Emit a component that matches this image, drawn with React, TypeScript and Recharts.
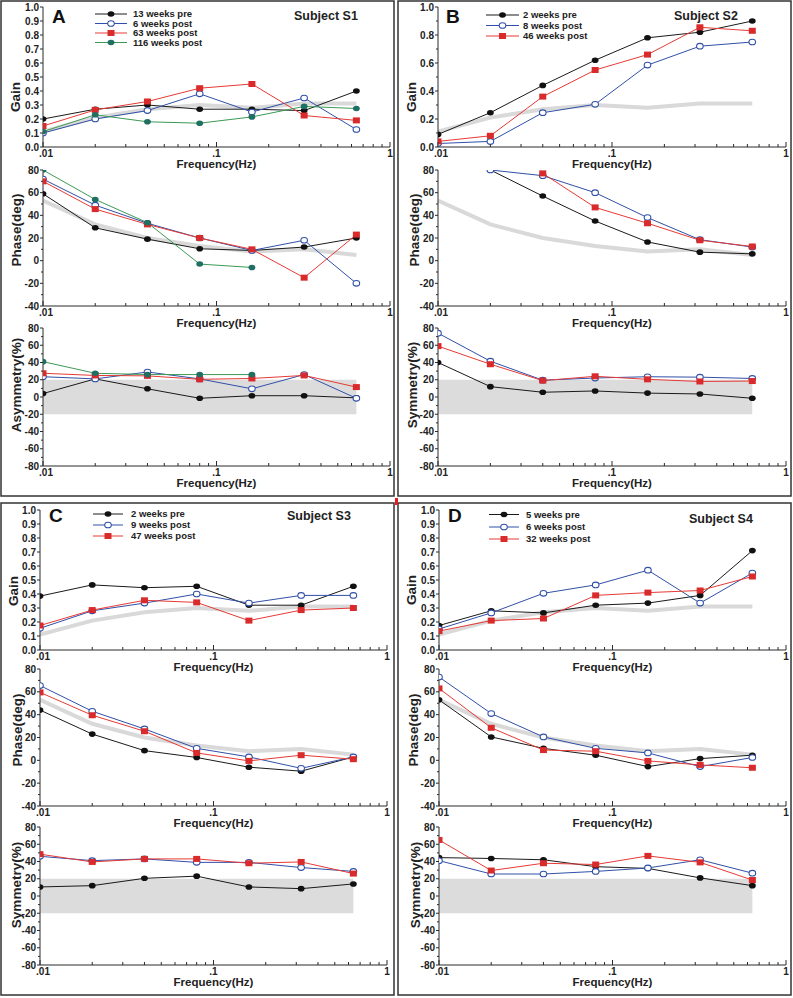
import React from 'react';
import { LineChart, Line, XAxis, YAxis, ReferenceArea } from 'recharts';

// stimulus frequencies (Hz)
const freqs = [0.01, 0.02, 0.04, 0.08, 0.16, 0.32, 0.64];
const xTicks = [0.01, 0.02, 0.03, 0.04, 0.05, 0.06, 0.07, 0.08, 0.09, 0.1, 0.2, 0.3, 0.4, 0.5, 0.6, 0.7, 0.8, 0.9, 1];
const xMajor = [0.01, 0.1, 1];
const xMajorLabels = ['.01', '.1', '1'];

const gainTicks = [0, 0.1, 0.2, 0.3, 0.4, 0.5, 0.6, 0.7, 0.8, 0.9, 1];
const gainMajorB = [0, 0.2, 0.4, 0.6, 0.8, 1];
const phaseTicks = [-40, -30, -20, -10, 0, 10, 20, 30, 40, 50, 60, 70, 80];
const phaseMajor = [-40, -20, 0, 20, 40, 60, 80];
const symTicks = [-80, -70, -60, -50, -40, -30, -20, -10, 0, 10, 20, 30, 40, 50, 60, 70, 80];
const symMajor = [-80, -60, -40, -20, 0, 20, 40, 60, 80];

// normal reference (gray)
const normGain = [0.11, 0.21, 0.27, 0.3, 0.28, 0.31, 0.31];
const normPhase = [53, 32, 20, 13, 8, 10, 5];
const normBand = [-20, 20];

// Subject S1
const s1Names = ['13 weeks pre', '6 weeks post', '63 weeks post', '116 weeks post'];
const s1Gain = [
  [0.2, 0.27, 0.3, 0.27, 0.27, 0.26, 0.4],
  [0.1, 0.2, 0.26, 0.38, 0.25, 0.35, 0.125],
  [0.15, 0.265, 0.325, 0.42, 0.45, 0.225, 0.19],
  [0.11, 0.23, 0.18, 0.17, 0.215, 0.29, 0.275],
];
const s1Phase = [
  [59, 29, 19, 10.5, 9, 12, 20],
  [72, 49, 33, 20, 9, 18, -20],
  [70, 45.5, 32, 20, 10, -15, 23],
  [80, 54, 33.5, -3, -6, null, null],
];
const s1Sym = [
  [4, 21, 9.5, -1.5, 1.5, 1.5, -1],
  [23.5, 21, 29, 21, 9.5, 26, -1.5],
  [27.5, 25, 24.5, 20.5, 21.5, 25, 11.5],
  [41, 27.5, 26, 26, 26, null, null],
];

// Subject S2
const s2Names = ['2 weeks pre', '8 weeks post', '46 weeks post'];
const s2Gain = [
  [0.09, 0.245, 0.44, 0.62, 0.78, 0.82, 0.9],
  [0.025, 0.04, 0.245, 0.305, 0.585, 0.72, 0.75],
  [0.04, 0.08, 0.36, 0.55, 0.66, 0.855, 0.83],
];
const s2Phase = [
  [null, 80, 57, 35, 16.5, 7.5, 6],
  [null, 80, 75, 60, 38, 18.5, 12],
  [null, null, 77, 47, 33, 18, 12.5],
];
const s2Sym = [
  [40, 12, 5.5, 7, 4.5, 3.5, -1.5],
  [74, 41.5, 19.5, 22, 23.5, 23, 21.5],
  [59, 38, 19, 24, 20.5, 18, 18.5],
];

// Subject S3
const s3Names = ['2 weeks pre', '9 weeks post', '47 weeks post'];
const s3Gain = [
  [0.385, 0.465, 0.445, 0.455, 0.32, 0.32, 0.455],
  [0.155, 0.28, 0.335, 0.4, 0.335, 0.39, 0.39],
  [0.175, 0.285, 0.355, 0.34, 0.21, 0.285, 0.3],
];
const s3Phase = [
  [44, 23, 8.5, 2.5, -6, -9.5, 3],
  [65.5, 43, 27.5, 10.5, 3, -7, 3],
  [59.5, 39.5, 25.5, 6.5, -0.5, 4.5, 1],
];
const s3Sym = [
  [10.5, 12, 20.5, 23, 10.5, 8.5, 14],
  [46, 41, 43, 39, 39, 33, 28.5],
  [48.5, 39.5, 43, 43, 38, 39.5, 26],
];

// Subject S4
const s4Names = ['5 weeks pre', '6 weeks post', '32 weeks post'];
const s4Gain = [
  [0.175, 0.28, 0.265, 0.32, 0.335, 0.39, 0.71],
  [0.15, 0.265, 0.405, 0.465, 0.57, 0.335, 0.55],
  [0.135, 0.21, 0.225, 0.39, 0.41, 0.425, 0.525],
];
const s4Phase = [
  [53, 20.5, 10.5, 4.5, -5.5, 1.5, 4.5],
  [73, 41, 20.5, 10.5, 6.5, -5.5, 2.5],
  [63, 28.5, 9, 8, -0.5, -4, -6.5],
];
const s4Sym = [
  [44.5, 43.5, 42, 34, 32, 21, 12],
  [41, 25.5, 25.5, 28.5, 32.5, 42, 26.5],
  [65, 29.5, 38, 36.5, 46.5, 39, 18.5],
];

const FONT = '"Liberation Sans", Arial, Helvetica, sans-serif';
const AXIS = '#2a2a2a';

const seriesStyles = [
  { stroke: '#1a1a1a', marker: 'disc' },
  { stroke: '#3050a8', marker: 'ring' },
  { stroke: '#e63a35', marker: 'square' },
  { stroke: '#3c9a55', marker: 'teal' },
];

const marker = (kind: string, cx: number, cy: number, key?: string) => {
  if (kind === 'ring')
    return <ellipse key={key} cx={cx} cy={cy} rx={3.3} ry={2.8} fill="#fff" stroke="#3050a8" strokeWidth={1.1} />;
  if (kind === 'square') return <rect key={key} x={cx - 3.5} y={cy - 3} width={7} height={6} fill="#d92b2b" />;
  if (kind === 'teal') return <ellipse key={key} cx={cx} cy={cy} rx={3.4} ry={2.8} fill="#1f6f62" />;
  return <ellipse key={key} cx={cx} cy={cy} rx={3.4} ry={2.8} fill="#111" />;
};

const dotFor = (kind: string) => (p: any) => {
  const k = `dot-${p.index}`;
  if (p.cx == null || p.cy == null || p.value == null) return <g key={k} />;
  return marker(kind, p.cx, p.cy, k);
};

const XTick = (p: any) => {
  const { x, y, payload } = p;
  const mi = xMajor.findIndex((m) => Math.abs(m - payload.value) < 1e-9);
  return (
    <g>
      <line x1={x} x2={x} y1={y} y2={y - (mi >= 0 ? 5 : 3)} stroke={AXIS} strokeWidth={1} />
      {mi >= 0 && (
        <text x={x + (mi === 0 ? 3 : 0)} y={y + 9.5} textAnchor="middle" fontSize={10} fontWeight="bold" fill="#222" fontFamily={FONT}>
          {xMajorLabels[mi]}
        </text>
      )}
    </g>
  );
};

const yTickFor = (major: number[], digits: number) => (p: any) => {
  const { x, y, payload } = p;
  const isMajor = major.some((m) => Math.abs(m - payload.value) < 1e-9);
  return (
    <g>
      <line x1={x - (isMajor ? 3 : 2)} x2={x} y1={y} y2={y} stroke={AXIS} strokeWidth={1} />
      {isMajor && (
        <text x={x - 4} y={y + 3.5} textAnchor="end" fontSize={10} fontWeight="bold" fill="#222" fontFamily={FONT}>
          {payload.value.toFixed(digits)}
        </text>
      )}
    </g>
  );
};

type PlotProps = {
  px: number[];
  py: number[];
  domain: number[];
  ticks: number[];
  major: number[];
  digits: number;
  series: (number | null)[][];
  norm?: number[];
  band?: number[];
};

const ML = 45;
const MR = 12;
const MT = 10;
const MB = 32;

const Plot = ({ px, py, domain, ticks, major, digits, series, norm, band }: PlotProps) => {
  const rows = freqs.map((f, i) => {
    const r: any = { f };
    if (norm) r.norm = norm[i];
    series.forEach((s, j) => (r['s' + j] = s[i]));
    return r;
  });
  const w = px[1] - px[0] + ML + MR;
  const h = py[1] - py[0] + MT + MB;
  return (
    <div style={{ position: 'absolute', left: px[0] - ML, top: py[0] - MT }}>
      <LineChart width={w} height={h} data={rows} margin={{ top: MT, right: MR, bottom: 0, left: 0 }}>
        <XAxis
          dataKey="f"
          type="number"
          scale="log"
          domain={[0.01, 1]}
          allowDataOverflow
          ticks={xTicks}
          interval={0}
          height={MB}
          tickSize={0}
          tickMargin={0}
          tickLine={false}
          tick={XTick}
          axisLine={{ stroke: AXIS, strokeWidth: 1 }}
          label={{
            value: 'Frequency(Hz)',
            position: 'insideBottom',
            offset: 11,
            fontSize: 11.5,
            fontWeight: 'bold',
            fill: '#222',
            fontFamily: FONT,
          }}
        />
        <YAxis
          type="number"
          domain={domain}
          allowDataOverflow
          ticks={ticks}
          interval={0}
          width={ML}
          tickSize={0}
          tickMargin={0}
          tickLine={false}
          tick={yTickFor(major, digits)}
          axisLine={{ stroke: AXIS, strokeWidth: 1 }}
        />
        {band && (
          <ReferenceArea x1={freqs[0]} x2={freqs[freqs.length - 1]} y1={band[0]} y2={band[1]} fill="#dcdcdc" fillOpacity={1} stroke="none" />
        )}
        {norm && (
          <Line dataKey="norm" type="linear" stroke="#d9d9d9" strokeWidth={4} dot={false} activeDot={false} isAnimationActive={false} />
        )}
        {series.map((_, j) => (
          <Line
            key={j}
            dataKey={'s' + j}
            type="linear"
            stroke={seriesStyles[j].stroke}
            strokeWidth={1}
            dot={dotFor(seriesStyles[j].marker)}
            activeDot={false}
            isAnimationActive={false}
          />
        ))}
      </LineChart>
    </div>
  );
};

// page layout (pixels)
const rowY = [
  { gain: [7, 147], phase: [170, 306], sym: [328, 466] },
  { gain: [510, 650], phase: [669, 806], sym: [827, 965] },
];

const panels = [
  {
    letter: 'A', letterXY: [52, 23], subject: 'Subject S1', subjectXY: [294, 19.5],
    names: s1Names, gain: s1Gain, phase: s1Phase, sym: s1Sym, symTitle: 'Asymmetry(%)',
    px: [43, 390], row: 0, gainMajor: gainTicks,
    legend: { x1: 95, x2: 127, tx: 133, ys: [14, 23.5, 33, 42.5] },
    titles: [[15, 97], [16, 230], [16, 385]],
    box: [1, 1, 394, 496],
  },
  {
    letter: 'B', letterXY: [446, 23], subject: 'Subject S2', subjectXY: [674, 20],
    names: s2Names, gain: s2Gain, phase: s2Phase, sym: s2Sym, symTitle: 'Symmetry(%)',
    px: [438, 786], row: 0, gainMajor: gainMajorB,
    legend: { x1: 486, x2: 519, tx: 523, ys: [15, 25.5, 36] },
    titles: [[411, 97], [414, 230], [412, 385]],
    box: [398, 1, 791, 496],
  },
  {
    letter: 'C', letterXY: [49, 522], subject: 'Subject S3', subjectXY: [287, 520],
    names: s3Names, gain: s3Gain, phase: s3Phase, sym: s3Sym, symTitle: 'Symmetry(%)',
    px: [40, 387], row: 1, gainMajor: gainTicks,
    legend: { x1: 93, x2: 123, tx: 131, ys: [514, 525, 536] },
    titles: [[13, 591], [17, 730], [16, 885]],
    box: [1, 503, 394, 995],
  },
  {
    letter: 'D', letterXY: [448, 522], subject: 'Subject S4', subjectXY: [689, 523],
    names: s4Names, gain: s4Gain, phase: s4Phase, sym: s4Sym, symTitle: 'Symmetry(%)',
    px: [439, 786], row: 1, gainMajor: gainTicks,
    legend: { x1: 489, x2: 519, tx: 526, ys: [514.5, 527, 539] },
    titles: [[411, 590], [413, 730], [415, 885]],
    box: [398, 503, 791, 995],
  },
];

const Overlay = () => (
  <svg width={793} height={998} style={{ position: 'absolute', left: 0, top: 0, pointerEvents: 'none' }} fontFamily={FONT}>
    {panels.map((p) => (
      <g key={p.letter}>
        <rect x={p.box[0]} y={p.box[1]} width={p.box[2] - p.box[0]} height={p.box[3] - p.box[1]} fill="none" stroke="#333" strokeWidth={1.5} />
        <text x={p.letterXY[0]} y={p.letterXY[1]} fontSize={19} fontWeight="bold" fill="#111">{p.letter}</text>
        <text x={p.subjectXY[0]} y={p.subjectXY[1]} fontSize={12.5} fontWeight="bold" fill="#222">{p.subject}</text>
        {p.names.map((n, j) => (
          <g key={n}>
            <line x1={p.legend.x1} x2={p.legend.x2} y1={p.legend.ys[j]} y2={p.legend.ys[j]} stroke={seriesStyles[j].stroke} strokeWidth={1} />
            {marker(seriesStyles[j].marker, (p.legend.x1 + p.legend.x2) / 2, p.legend.ys[j])}
            <text x={p.legend.tx} y={p.legend.ys[j] + 3.3} fontSize={9.5} fontWeight="bold" fill="#222">{n}</text>
          </g>
        ))}
        {['Gain', 'Phase(deg)', p.symTitle].map((t, k) => (
          <text
            key={t}
            x={p.titles[k][0]}
            y={p.titles[k][1]}
            transform={`rotate(-90 ${p.titles[k][0]} ${p.titles[k][1]})`}
            textAnchor="middle"
            dy="0.36em"
            fontSize={13.5}
            fontWeight="bold"
            fill="#222"
          >
            {t}
          </text>
        ))}
      </g>
    ))}
    <rect x={395} y={498} width={3} height={7} fill="#e02020" />
  </svg>
);

export default function App() {
  return (
    <div style={{ position: 'absolute', left: 0, top: 0, width: 793, height: 998, background: '#fff', fontFamily: FONT }}>
      {panels.map((p) => {
        const r = rowY[p.row];
        return (
          <React.Fragment key={p.letter}>
            <Plot px={p.px} py={r.gain} domain={[0, 1]} ticks={gainTicks} major={p.gainMajor} digits={1} series={p.gain} norm={normGain} />
            <Plot px={p.px} py={r.phase} domain={[-40, 80]} ticks={phaseTicks} major={phaseMajor} digits={0} series={p.phase} norm={normPhase} />
            <Plot px={p.px} py={r.sym} domain={[-80, 80]} ticks={symTicks} major={symMajor} digits={0} series={p.sym} band={normBand} />
          </React.Fragment>
        );
      })}
      <Overlay />
    </div>
  );
}
